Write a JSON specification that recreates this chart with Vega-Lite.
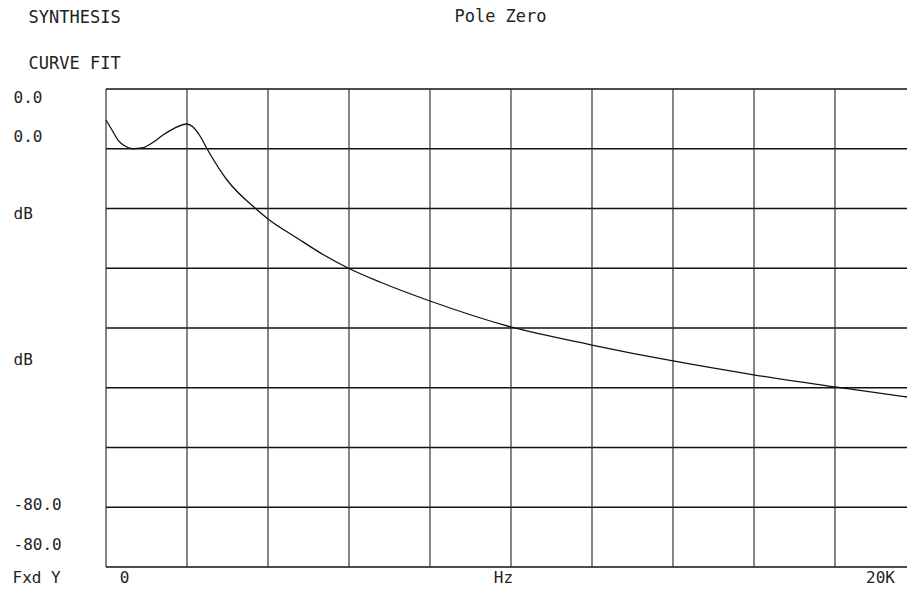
{
  "$schema": "https://vega.github.io/schema/vega-lite/v6.json",
  "autosize": "none",
  "width": 801,
  "height": 478,
  "padding": {"left": 106, "top": 89, "right": 0, "bottom": 24},
  "background": "white",
  "title": {
    "text": "Pole Zero",
    "anchor": "middle",
    "frame": "group",
    "dx": -6,
    "dy": 18,
    "offset": 0,
    "font": "DejaVu Sans Mono",
    "fontSize": 17,
    "fontWeight": "normal",
    "color": "#222"
  },
  "config": {"view": {"stroke": null}},
  "datasets": {
    "hgrid": [{"db": 10}, {"db": 0}, {"db": -10}, {"db": -20}, {"db": -30}, {"db": -40}, {"db": -50}, {"db": -60}, {"db": -70}],
    "vgrid": [{"hz": 0}, {"hz": 2000}, {"hz": 4000}, {"hz": 6000}, {"hz": 8000}, {"hz": 10000}, {"hz": 12000}, {"hz": 14000}, {"hz": 16000}, {"hz": 18000}],
    "curve": [
      {"f": 0, "m": 4.81},
      {"f": 148, "m": 3.14},
      {"f": 296, "m": 1.46},
      {"f": 469, "m": 0.46},
      {"f": 667, "m": 0.0},
      {"f": 889, "m": 0.13},
      {"f": 1136, "m": 0.96},
      {"f": 1407, "m": 2.3},
      {"f": 1704, "m": 3.5},
      {"f": 2000, "m": 4.14},
      {"f": 2148, "m": 3.64},
      {"f": 2321, "m": 2.13},
      {"f": 2494, "m": 0.0},
      {"f": 2988, "m": -5.23},
      {"f": 3679, "m": -9.92},
      {"f": 4000, "m": -11.76},
      {"f": 4716, "m": -14.94},
      {"f": 5358, "m": -17.7},
      {"f": 5975, "m": -19.96},
      {"f": 6765, "m": -22.3},
      {"f": 8000, "m": -25.48},
      {"f": 10000, "m": -29.83},
      {"f": 12000, "m": -32.85},
      {"f": 14000, "m": -35.52},
      {"f": 16025, "m": -37.87},
      {"f": 18000, "m": -39.87},
      {"f": 19778, "m": -41.55}
    ]
  },
  "resolve": {"axis": {"x": "independent", "y": "independent"}},
  "layer": [
    {
      "data": {"name": "hgrid"},
      "mark": {"type": "rule", "color": "#111", "strokeWidth": 1.6},
      "encoding": {
        "y": {
          "field": "db", "type": "quantitative",
          "scale": {"domain": [-70, 10], "nice": false, "zero": false},
          "axis": {
            "orient": "left", "values": [8.66, 1.97, -10.9, -35.2, -59.6, -66.3],
            "labelExpr": "datum.value > 0 ? '\u00a0\u00a00.0' : datum.value > -50 ? 'dB' : '-80.0'",
            "ticks": false, "domain": false, "grid": false, "labelFlush": false, "labelOverlap": false,
            "labelAlign": "left", "labelBaseline": "middle", "labelPadding": 93,
            "labelFont": "DejaVu Sans Mono", "labelFontSize": 16, "labelColor": "#222",
            "title": "SYNTHESIS", "titleAngle": 0, "titleX": -78, "titleY": -72, "titleAlign": "left", "titleBaseline": "middle", "titleAnchor": null,
            "titleFont": "DejaVu Sans Mono", "titleFontSize": 17, "titleFontWeight": "normal", "titleColor": "#222"
          }
        }
      }
    },
    {
      "data": {"name": "vgrid"},
      "mark": {"type": "rule", "color": "#333", "strokeWidth": 1.2},
      "encoding": {
        "x": {
          "field": "hz", "type": "quantitative",
          "scale": {"domain": [0, 19778], "nice": false, "zero": false},
          "axis": {
            "orient": "top", "title": "CURVE FIT", "labels": false, "ticks": false, "domain": false, "grid": false,
            "titleX": -78, "titleY": -26, "titleAlign": "left", "titleBaseline": "middle", "titleAnchor": null,
            "titleFont": "DejaVu Sans Mono", "titleFontSize": 17, "titleFontWeight": "normal", "titleColor": "#222"
          }
        }
      }
    },
    {
      "data": {"name": "curve"},
      "mark": {"type": "line", "color": "#111", "strokeWidth": 1.3, "interpolate": "monotone"},
      "encoding": {
        "x": {
          "field": "f", "type": "quantitative",
          "scale": {"domain": [0, 19778], "nice": false, "zero": false},
          "axis": {
            "orient": "bottom", "values": [444, 9802, 19111],
            "labelExpr": "datum.value < 1000 ? '0' : datum.value < 15000 ? 'Hz' : '20K'",
            "ticks": false, "domain": false, "grid": false, "labelFlush": false, "labelOverlap": false,
            "labelPadding": 10, "labelBaseline": "middle", "labelAlign": "center",
            "labelFont": "DejaVu Sans Mono", "labelFontSize": 16, "labelColor": "#222",
            "title": "Fxd Y", "titleX": -94, "titleY": 10, "titleAlign": "left", "titleBaseline": "middle", "titleAnchor": null,
            "titleFont": "DejaVu Sans Mono", "titleFontSize": 16, "titleFontWeight": "normal", "titleColor": "#222"
          }
        },
        "y": {
          "field": "m", "type": "quantitative",
          "scale": {"domain": [-70, 10], "nice": false, "zero": false},
          "axis": null
        }
      }
    }
  ]
}
